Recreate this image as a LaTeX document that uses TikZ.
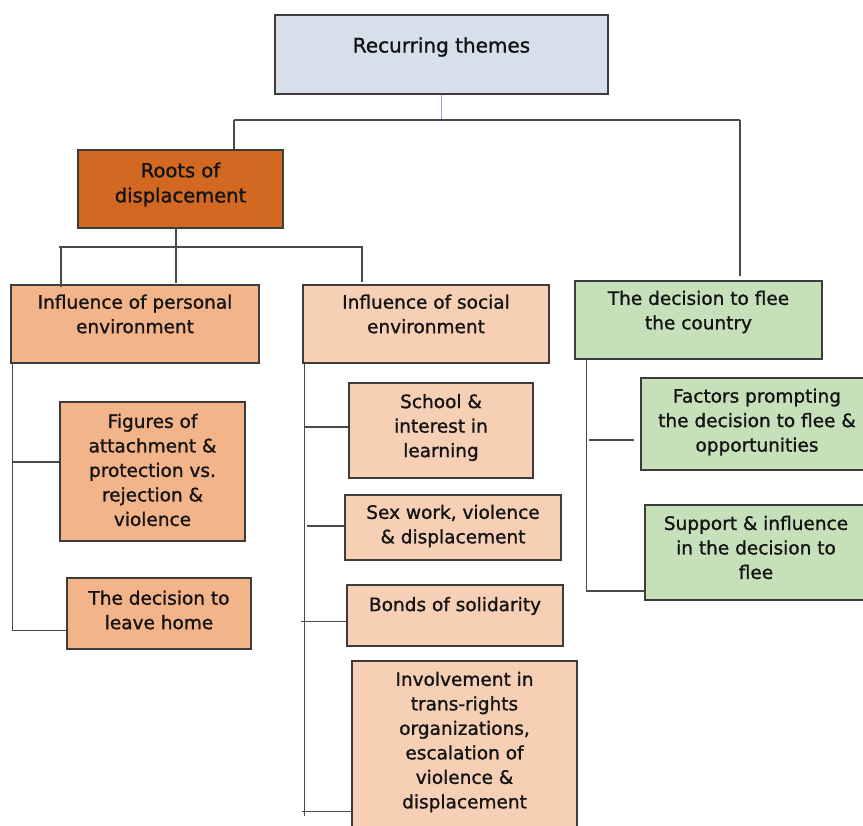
\documentclass[tikz,border=0pt]{standalone}
\usepackage{fontspec}
\setmainfont{DejaVu Sans}[FakeBold=1.2]
\usepackage{xcolor}
\usepackage{tikz}
\usetikzlibrary{positioning}
\definecolor{themeblue}{HTML}{D6DFEA}
\definecolor{rootorange}{HTML}{D26822}
\definecolor{personalorange}{HTML}{F3B48A}
\definecolor{socialpeach}{HTML}{F6CFB5}
\definecolor{fleegreen}{HTML}{C6E0BA}
\definecolor{edgegray}{HTML}{3C3C3C}
\definecolor{linkgray}{HTML}{4A4A4A}
\definecolor{linkblue}{HTML}{8EA9DB}
\tikzset{
    box/.style={
        draw = edgegray,
        line width = 1.4pt,
        inner sep = 0pt
    },
    txt/.style={
        align = center,
        text = black!92,
        font = \fontsize{18.5}{24.5}\selectfont
    },
    link/.style = {draw = linkgray, line width = 1.2pt}
}

\begin{document}
\begin{tikzpicture}[x=1pt, y=-1pt]
    \useasboundingbox (0,0) rectangle (863,826);
    \clip (0,0) rectangle (863,826);

    % Top box
    \node[box, fill=themeblue, minimum width=333, minimum height=79] (themes) at (441.5,54.5) {};
    \node[txt, font=\fontsize{20}{24}\selectfont] (themes-text) at ([yshift=7.5]themes.center) {Recurring themes};

    % Second level
    \node[box, fill=rootorange, minimum width=205, minimum height=78] (roots) at (180.5,189) {};
    \node[txt, font=\fontsize{19.5}{25}\selectfont] (roots-text) at ([yshift=4.5]roots.center) {Roots of\\displacement};

    \node[box, fill=fleegreen, minimum width=247, minimum height=78] (flee) at (698.5,320) {};
    \node[txt] (flee-text) at ([yshift=8]flee.center) {The decision to flee\\the country};

    % Third level
    \node[box, fill=personalorange, minimum width=248, minimum height=78] (personal) at (135,324) {};
    \node[txt] (personal-text) at ([yshift=10]personal.center) {Influence of personal\\environment};

    \node[box, fill=socialpeach, minimum width=246, minimum height=78] (social) at (426,324) {};
    \node[txt] (social-text) at ([yshift=10]social.center) {Influence of social\\environment};

    % Personal environment
    \node[box, fill=personalorange, minimum width=185, minimum height=139] (figures) at (152.5,471.5) {};
    \node[txt] (figures-text) at ([yshift=1.5]figures.center) {Figures of\\attachment \&\\protection vs.\\rejection \&\\violence};

    \node[box, fill=personalorange, minimum width=184, minimum height=71] (leave) at (159,613.5) {};
    \node[txt] (leave-text) at ([yshift=3.5]leave.center) {The decision to\\leave home};

    % Social environment
    \node[box, fill=socialpeach, minimum width=184, minimum height=95] (school) at (441,430.5) {};
    \node[txt] (school-text) at ([yshift=3]school.center) {School \&\\interest in\\learning};

    \node[box, fill=socialpeach, minimum width=216, minimum height=65] (sexwork) at (453,527.5) {};
    \node[txt] (sexwork-text) at ([yshift=1.5]sexwork.center) {Sex work, violence\\\& displacement};

    \node[box, fill=socialpeach, minimum width=216, minimum height=61] (bonds) at (455,615.5) {};
    \node[txt] (bonds-text) at ([yshift=9.5]bonds.center) {Bonds of solidarity};

    \node[box, fill=socialpeach, minimum width=225, minimum height=179] (involve) at (464.5,750.5) {};
    \node[txt] (involve-text) at ([yshift=8.5]involve.center) {Involvement in\\trans-rights\\organizations,\\escalation of\\violence \&\\displacement};

    % Decision to flee
    \node[box, fill=fleegreen, minimum width=232, minimum height=92] (factors) at (757,424) {};
    \node[txt] (factors-text) at ([yshift=2]factors.center) {Factors prompting\\the decision to flee \&\\opportunities};

    \node[box, fill=fleegreen, minimum width=222, minimum height=95] (support) at (756,552.5) {};
    \node[txt] (support-text) at ([yshift=5]support.center) {Support \& influence\\in the decision to\\flee};

    % Lines
    \coordinate (bar1-left) at (234,120);
    \coordinate (bar1-right) at (740,120);
    \draw[link, draw=linkblue] (themes.south) -- (themes.south |- bar1-left);
    \draw[link] (bar1-left) -- (bar1-right);
    \draw[link] (bar1-left) -- (bar1-left |- roots.north);
    \draw[link] (bar1-right) -- ++(0,156);

    \coordinate (bar2-left) at (59,247);
    \coordinate (bar2-right) at (363,247);
    \draw[link] (bar2-left) -- (bar2-right);
    \draw[link] ([xshift=-4.5]roots.south) -- ++(0,54);
    \draw[link] ([xshift=2]bar2-left) -- ++(0,40);
    \draw[link] ([xshift=-1]bar2-right) -- ++(0,35);

    \draw[link] ([xshift=2]personal.south west) |- ([yshift=-17]leave.west);
    \draw[link] ([yshift=9.5]figures.west) -- ++(-47,0);

    \draw[link] ([xshift=2]social.south west) -- ++(0,452);
    \draw[link] ([yshift=3.5]school.west) -- ++(-44,0);
    \draw[link] ([yshift=1.5]sexwork.west) -- ++(-37,0);
    \draw[link] ([yshift=-6]bonds.west) -- ++(-45,0);
    \draw[link] ([yshift=-61]involve.west) -- ++(-49,0);

    \draw[link] ([xshift=12]flee.south west) |- ([yshift=-38.5]support.west);
    \draw[link] ([xshift=-6,yshift=-16]factors.west) -- ++(-45,0);

\end{tikzpicture}
\end{document}
